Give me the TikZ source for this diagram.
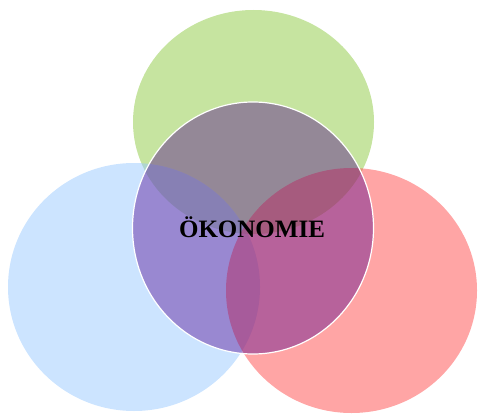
\documentclass[tikz,border=0pt]{standalone}
\usepackage{fontspec}
\setmainfont{Liberation Serif}
\definecolor{vgreen}{RGB}{141,201,65}
\definecolor{vblue}{RGB}{153,201,255}
\definecolor{vred}{RGB}{255,75,75}
\definecolor{vcore}{RGB}{76,0,140}
\tikzset{
  outer/.style={fill opacity=0.5, draw=none},
  core/.style={fill=vcore, fill opacity=0.4, draw=white, line width=1.2pt},
  lbl/.style={font=\bfseries\fontsize{25}{29}\selectfont, text=black, inner sep=0pt}
}
\begin{document}
\begin{tikzpicture}[x=1pt,y=-1pt]
\useasboundingbox (0,0) rectangle (478,414);
\fill[outer, fill=vgreen] (253.5,122) ellipse [x radius=120.5, y radius=112];
\fill[outer, fill=vblue] (134,287) ellipse [x radius=126, y radius=124];
\fill[outer, fill=vred] (351.5,290.5) ellipse [x radius=125.5, y radius=122.5];
\filldraw[core] (253,228) ellipse [x radius=120.5, y radius=126];
\node[lbl] (core) at (252,227.5) {ÖKONOMIE};
\end{tikzpicture}
\end{document}
